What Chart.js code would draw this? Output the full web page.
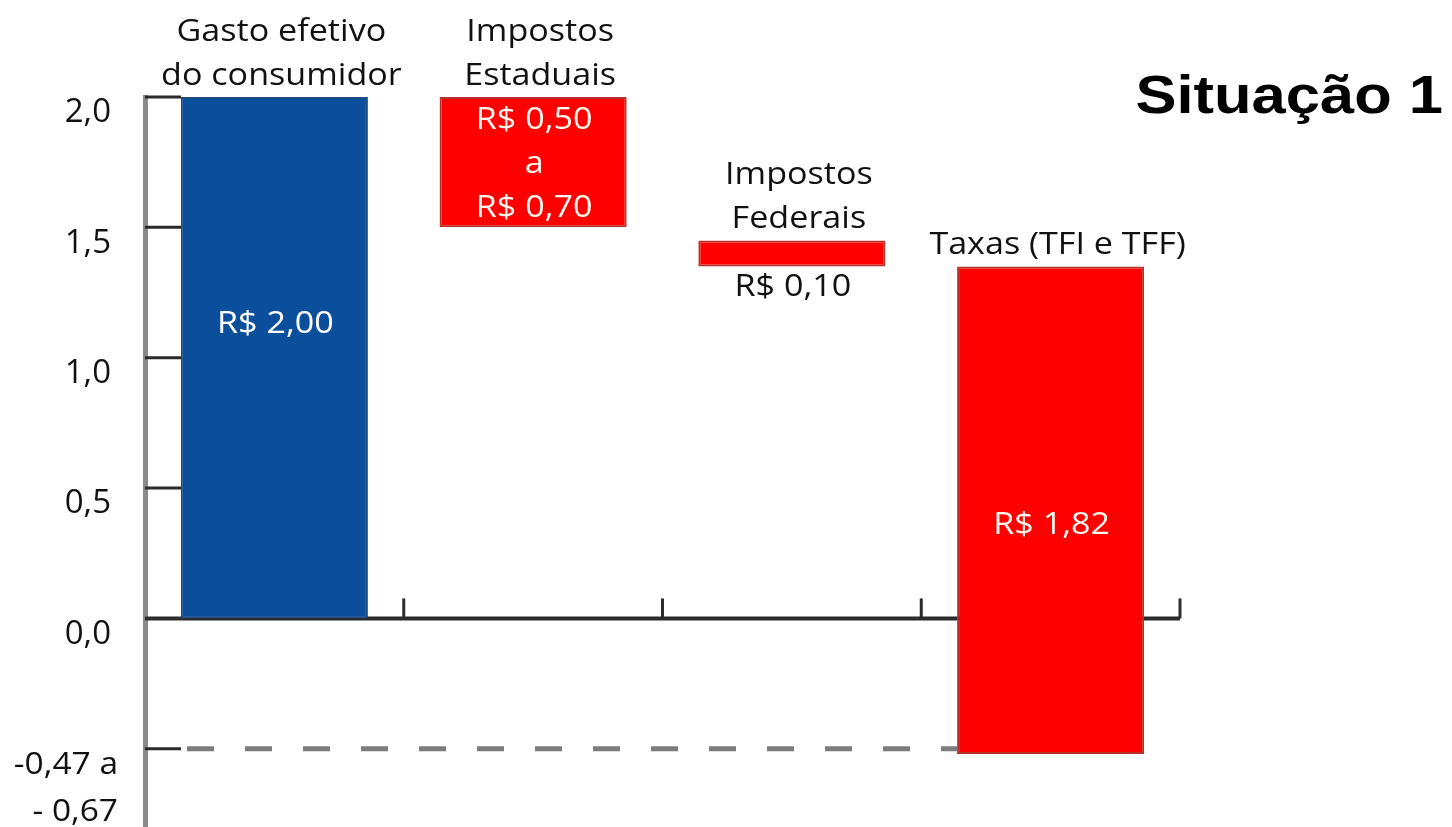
<!DOCTYPE html>
<html>
<head>
<meta charset="utf-8">
<script src="https://cdn.jsdelivr.net/npm/chart.js@4"></script>
<style>
  html, body { margin: 0; padding: 0; background: #ffffff; }
  #wrap { position: relative; width: 1452px; height: 827px; }
</style>
</head>
<body>
<div id="wrap"><canvas id="c"></canvas></div>
<script>
// ---- data ----
const categoryLines = [
  ['Gasto efetivo', 'do consumidor'],
  ['Impostos', 'Estaduais'],
  ['Impostos', 'Federais'],
  ['Taxas (TFI e TFF)']
];
const barLow  = [0.0, 1.5, 1.35, -0.52];
const barHigh = [2.0, 2.0, 1.45, 1.35];
const valueLabels = [
  ['R$ 2,00'],
  ['R$ 0,50', 'a', 'R$ 0,70'],
  ['R$ 0,10'],
  ['R$ 1,82']
];
const tickValues = [2.0, 1.5, 1.0, 0.5, 0.0];
const tickLabels = ['2,0', '1,5', '1,0', '0,5', '0,0'];
const rangeLevel = -0.5;
const rangeLabel = ['-0,47 a', '- 0,67'];
const titleText = 'Situação 1';

// ---- styles ----
const barColors  = ['#0b4f9c', '#ff0000', '#ff0000', '#ff0000'];
const barBorders = ['#1d4a80', '#b8302a', '#b8302a', '#b8302a'];
const valueColors = ['#ffffff', '#fff6ee', '#111111', '#fff6ee'];
// placement: 'frac' = fraction from top of bar, 'center' = centered, 'below' = under the bar
const valuePlace = [
  { mode: 'frac', f: 0.432 },
  { mode: 'center' },
  { mode: 'below', gap: 19 },
  { mode: 'frac', f: 0.527 }
];
const TXT_FONT = '"Open Sans", "DejaVu Sans", sans-serif';
const SX = 1.1;       // horizontal stretch of text
const LINE_H = 44;
const CAP_HALF = 11;  // half cap height, for baseline from centre

function txt(ctx, s, x, y, font, color, align, sx) {
  ctx.save();
  ctx.font = font;
  ctx.fillStyle = color;
  ctx.textAlign = align;
  ctx.textBaseline = 'alphabetic';
  ctx.translate(x, y);
  ctx.scale(sx, 1);
  ctx.fillText(s, 0, 0);
  ctx.restore();
}

const decor = {
  id: 'decor',
  beforeDatasetsDraw(chart) {
    const ctx = chart.ctx;
    const xs = chart.scales.x, ys = chart.scales.y;
    const area = chart.chartArea;
    const half = (xs.getPixelForValue(1) - xs.getPixelForValue(0)) / 2;
    ctx.save();
    // short tick marks on the y axis
    ctx.strokeStyle = '#2a2a2a';
    ctx.lineWidth = 3;
    const tickLen = 36;
    tickValues.concat([rangeLevel]).forEach(v => {
      if (v === 0) return;
      const y = ys.getPixelForValue(v);
      ctx.beginPath();
      ctx.moveTo(area.left, y);
      ctx.lineTo(area.left + tickLen, y);
      ctx.stroke();
    });
    // zero line
    const y0 = ys.getPixelForValue(0);
    ctx.strokeStyle = '#2c2c2c';
    ctx.lineWidth = 4;
    ctx.beginPath();
    ctx.moveTo(area.left, y0);
    ctx.lineTo(area.right, y0);
    ctx.stroke();
    // category boundary ticks
    ctx.lineWidth = 3;
    for (let i = 0; i < categoryLines.length; i++) {
      const bx = xs.getPixelForValue(i) + half;
      ctx.beginPath();
      ctx.moveTo(bx, y0);
      ctx.lineTo(bx, y0 - 20);
      ctx.stroke();
    }
    // dashed range line
    const yr = ys.getPixelForValue(rangeLevel);
    const meta = chart.getDatasetMeta(0);
    const lastBar = meta.data[meta.data.length - 1];
    ctx.strokeStyle = '#7d7d7d';
    ctx.lineWidth = 5;
    ctx.setLineDash([27, 31]);
    ctx.beginPath();
    ctx.moveTo(area.left + tickLen + 6, yr);
    ctx.lineTo(lastBar.x - lastBar.width / 2, yr);
    ctx.stroke();
    ctx.restore();
  },
  afterDatasetsDraw(chart) {
    const ctx = chart.ctx;
    const ys = chart.scales.y;
    const meta = chart.getDatasetMeta(0);
    const catFont = '500 31px ' + TXT_FONT;
    meta.data.forEach((bar, i) => {
      const top = ys.getPixelForValue(barHigh[i]);
      const bot = ys.getPixelForValue(barLow[i]);
      // category label above the bar
      const lines = categoryLines[i];
      lines.forEach((s, k) => {
        const base = top - 12 - (lines.length - 1 - k) * LINE_H;
        txt(ctx, s, bar.x + 7, base, catFont, '#111111', 'center', SX);
      });
      // value label
      const vl = valueLabels[i];
      const p = valuePlace[i];
      let cy;
      if (p.mode === 'frac') cy = top + (bot - top) * p.f;
      else if (p.mode === 'center') cy = (top + bot) / 2;
      else cy = bot + p.gap;
      const firstC = cy - (vl.length - 1) * LINE_H / 2;
      vl.forEach((s, k) => {
        txt(ctx, s, bar.x + 1, firstC + k * LINE_H + CAP_HALF, catFont, valueColors[i], 'center', SX);
      });
    });
    // range label on the y axis
    const yr = ys.getPixelForValue(rangeLevel);
    txt(ctx, rangeLabel[0], 118, yr + 14 + CAP_HALF, '500 31px ' + TXT_FONT, '#111111', 'right', 1.08);
    txt(ctx, rangeLabel[1], 118, yr + 61 + CAP_HALF, '500 31px ' + TXT_FONT, '#111111', 'right', 1.08);
    // title
    txt(ctx, titleText, 1443, 113, 'bold 53px "Liberation Sans", Arial, sans-serif', '#000000', 'right', 1.16);
  }
};

new Chart(document.getElementById('c'), {
  type: 'bar',
  data: {
    labels: categoryLines.map(l => l.join(' ')),
    datasets: [{
      data: barLow.map((lo, i) => [lo, barHigh[i]]),
      backgroundColor: barColors,
      borderColor: barBorders,
      borderWidth: 2,
      borderSkipped: false,
      barPercentage: 0.723,
      categoryPercentage: 1.0
    }]
  },
  options: {
    responsive: true,
    maintainAspectRatio: false,
    animation: false,
    events: [],
    layout: { padding: { left: 0, top: 97, right: 272, bottom: 0 } },
    plugins: { legend: { display: false }, tooltip: { enabled: false }, title: { display: false } },
    scales: {
      x: { type: 'category', display: false, offset: true },
      y: {
        min: -0.8,
        max: 2.0,
        afterBuildTicks(scale) { scale.ticks = tickValues.map(v => ({ value: v })); },
        afterFit(scale) {
          scale.width = 145;
          scale.paddingTop = 0;
          scale.paddingBottom = 0;
        },
        grid: { display: false },
        border: { display: true, color: '#8a8a8a', width: 5 },
        ticks: {
          padding: 26,
          labelOffset: 16,
          color: '#111111',
          font: { family: '"Open Sans", "DejaVu Sans", sans-serif', size: 33, weight: '500' },
          callback(value) {
            const i = tickValues.indexOf(value);
            return i >= 0 ? tickLabels[i] : '';
          }
        }
      }
    }
  },
  plugins: [decor]
});
</script>
</body>
</html>
